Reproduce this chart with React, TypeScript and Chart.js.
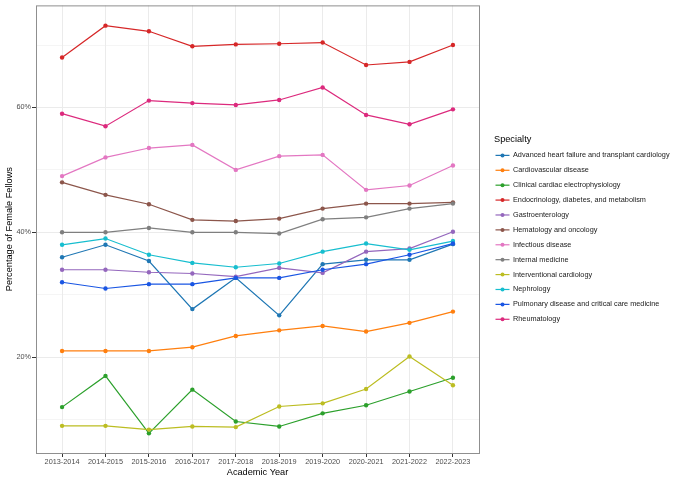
import { useEffect, useRef } from 'react';
import { Chart, registerables, type Plugin } from 'chart.js';

Chart.register(...registerables);

const years = ['2013-2014', '2014-2015', '2015-2016', '2016-2017', '2017-2018', '2018-2019', '2019-2020', '2020-2021', '2021-2022', '2022-2023'];

const specialties = [
    'Advanced heart failure and transplant cardiology',
    'Cardiovascular disease',
    'Clinical cardiac electrophysiology',
    'Endocrinology, diabetes, and metabolism',
    'Gastroenterology',
    'Hematology and oncology',
    'Infectious disease',
    'Internal medicine',
    'Interventional cardiology',
    'Nephrology',
    'Pulmonary disease and critical care medicine',
    'Rheumatology',
];

const advancedHeartFailure = [36.0, 38.0, 35.4, 27.7, 32.7, 26.7, 34.9, 35.6, 35.6, 38.1];
const cardiovascular = [21.0, 21.0, 21.0, 21.6, 23.4, 24.3, 25.0, 24.1, 25.5, 27.3];
const electrophysiology = [12.0, 17.0, 7.8, 14.8, 9.7, 8.9, 11.0, 12.3, 14.5, 16.7];
const endocrinology = [68.0, 73.1, 72.2, 69.8, 70.1, 70.2, 70.4, 66.8, 67.3, 70.0];
const gastroenterology = [34.0, 34.0, 33.6, 33.4, 32.9, 34.3, 33.5, 36.9, 37.4, 40.1];
const hematologyOncology = [48.0, 46.0, 44.5, 42.0, 41.8, 42.2, 43.8, 44.6, 44.6, 44.8];
const infectiousDisease = [49.0, 52.0, 53.5, 54.0, 50.0, 52.2, 52.4, 46.8, 47.5, 50.7];
const internalMedicine = [40.0, 40.0, 40.7, 40.0, 40.0, 39.8, 42.1, 42.4, 43.8, 44.6];
const interventional = [9.0, 9.0, 8.4, 8.9, 8.8, 12.1, 12.6, 14.9, 20.1, 15.5];
const nephrology = [38.0, 39.0, 36.4, 35.1, 34.4, 35.0, 36.9, 38.2, 37.2, 38.6];
const pulmonary = [32.0, 31.0, 31.7, 31.7, 32.7, 32.7, 34.0, 34.9, 36.4, 38.2];
const rheumatology = [59.0, 57.0, 61.1, 60.7, 60.4, 61.2, 63.2, 58.8, 57.3, 59.7];

const series = [
    advancedHeartFailure, cardiovascular, electrophysiology, endocrinology,
    gastroenterology, hematologyOncology, infectiousDisease, internalMedicine,
    interventional, nephrology, pulmonary, rheumatology,
];

const colors = [
    '#1f77b4', '#ff7f0e', '#2ca02c', '#d62728', '#9467bd', '#8c564b',
    '#e377c2', '#7f7f7f', '#bcbd22', '#17becf', '#1a56e3', '#dc2a7d',
];

const FONT = '"Liberation Sans", Arial, Helvetica, sans-serif';

// panel border, like ggplot's theme_bw
const panelBorder: Plugin<'line'> = {
    id: 'panelBorder',
    afterDraw(chart) {
        const { ctx, chartArea: a } = chart;
        ctx.save();
        ctx.strokeStyle = '#8f8f8f';
        ctx.lineWidth = 1;
        ctx.strokeRect(a.left + 0.5, a.top + 0.5, a.right - a.left, a.bottom - a.top);
        ctx.restore();
    },
};

// legend drawn to the right of the panel: line + point keys
const sideLegend: Plugin<'line'> = {
    id: 'sideLegend',
    afterDraw(chart) {
        const { ctx, chartArea: a } = chart;
        const x0 = a.right + 15;
        const y0 = a.top + 134;
        ctx.save();
        ctx.fillStyle = '#000';
        ctx.font = `9.2px ${FONT}`;
        ctx.textBaseline = 'middle';
        ctx.fillText('Specialty', x0, y0);
        ctx.font = `7.3px ${FONT}`;
        chart.data.datasets.forEach((ds, i) => {
            const y = y0 + 16 + i * 14.9;
            const c = ds.borderColor as string;
            ctx.strokeStyle = c;
            ctx.lineWidth = 1.2;
            ctx.beginPath();
            ctx.moveTo(x0 + 1.5, y);
            ctx.lineTo(x0 + 15.5, y);
            ctx.stroke();
            ctx.fillStyle = c;
            ctx.beginPath();
            ctx.arc(x0 + 8.5, y, 2, 0, Math.PI * 2);
            ctx.fill();
            ctx.fillStyle = '#1a1a1a';
            ctx.fillText(ds.label ?? '', x0 + 19, y);
        });
        ctx.restore();
    },
};

const App = () => {
    const canvas = useRef<HTMLCanvasElement>(null);

    useEffect(() => {
        const chart = new Chart(canvas.current as HTMLCanvasElement, {
            type: 'line',
            data: {
                datasets: specialties.map((name, i) => ({
                    label: name,
                    data: series[i].map((v, j) => ({ x: j, y: v })),
                    borderColor: colors[i],
                    backgroundColor: colors[i],
                    borderWidth: 1.2,
                    pointRadius: 2.2,
                    pointBorderWidth: 0,
                    pointBackgroundColor: colors[i],
                    tension: 0,
                    order: -i,
                })),
            },
            options: {
                responsive: false,
                animation: false,
                layout: {
                    padding: { top: 5, right: 201, left: 0, bottom: 0 },
                },
                plugins: {
                    legend: { display: false },
                    tooltip: { enabled: false },
                },
                scales: {
                    x: {
                        type: 'linear',
                        min: -0.6,
                        max: 9.6,
                        afterFit: (scale) => { scale.height = 29; },
                        grid: {
                            color: '#ebebeb',
                            lineWidth: 1,
                            tickLength: 4,
                            tickColor: '#333333',
                        },
                        border: { display: false },
                        ticks: {
                            stepSize: 1,
                            includeBounds: false,
                            autoSkip: false,
                            maxRotation: 0,
                            padding: 1,
                            color: '#4d4d4d',
                            font: { family: FONT, size: 7.3 },
                            callback: (value) => years[value as number] ?? '',
                        },
                        title: {
                            display: true,
                            text: 'Academic Year',
                            color: '#000',
                            font: { family: FONT, size: 9.2 },
                            padding: { top: 0, bottom: 4 },
                        },
                    },
                    y: {
                        type: 'linear',
                        min: 4.65,
                        max: 76.35,
                        afterFit: (scale) => { scale.width = 36; },
                        grid: {
                            color: '#ebebeb',
                            lineWidth: (ctx) => (ctx.tick && ctx.tick.value % 20 === 0 ? 1 : 0.5),
                            tickLength: 4,
                            tickColor: (ctx) => (ctx.tick && ctx.tick.value % 20 === 0 ? '#333333' : 'rgba(0,0,0,0)'),
                        },
                        border: { display: false },
                        ticks: {
                            stepSize: 10,
                            includeBounds: false,
                            padding: 1,
                            color: '#4d4d4d',
                            font: { family: FONT, size: 7.3 },
                            callback: (value) => ((value as number) % 20 === 0 ? `${value}%` : ''),
                        },
                        title: {
                            display: true,
                            text: 'Percentage of Female Fellows',
                            color: '#000',
                            font: { family: FONT, size: 9.2 },
                            padding: { top: 4, bottom: 0 },
                        },
                    },
                },
            },
            plugins: [panelBorder, sideLegend],
        });

        return () => {
            chart.destroy();
        };
    }, []);

    return (
        <div style={{ position: 'fixed', left: 0, top: 0, width: 680, height: 482, background: '#fff' }}>
            <canvas
                ref={canvas}
                width={680}
                height={482}
                aria-label="Percentage of female fellows by specialty and academic year"
                role="img"
            ></canvas>
        </div>
    );
};

export default App;
